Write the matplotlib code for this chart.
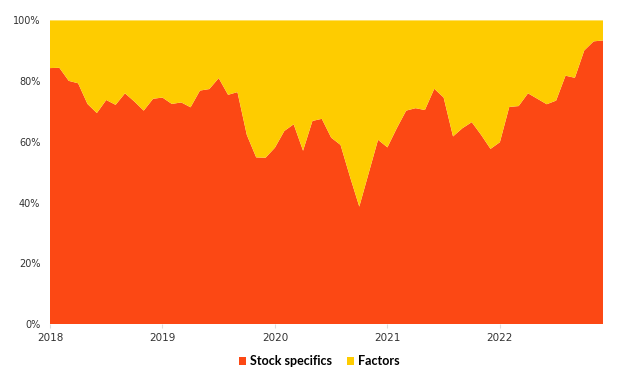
import matplotlib.pyplot as plt
import numpy as np

# monthly share of active risk, Jan 2018 - Dec 2022 (%)
stock_specifics = [
    84.3, 84.4, 80.1, 79.3, 72.5, 69.5, 73.8, 72.2, 76.0, 73.3, 70.3, 74.2,
    74.6, 72.5, 73.0, 71.4, 76.9, 77.4, 81.0, 75.5, 76.4, 62.3, 54.9, 54.8,
    58.1, 63.6, 65.8, 57.1, 66.9, 67.6, 61.4, 59.0, 48.6, 38.7, 49.7, 60.7,
    58.2, 64.5, 70.3, 71.1, 70.5, 77.5, 74.6, 61.8, 64.5, 66.5, 62.3, 57.7,
    59.9, 71.5, 71.8, 76.0, 74.2, 72.4, 73.6, 81.8, 81.1, 90.1, 93.1, 93.4,
]
factors = [100 - v for v in stock_specifics]
years = [2018, 2019, 2020, 2021, 2022]

x = 2018 + np.arange(len(stock_specifics)) / 12

fig = plt.figure(figsize=(6.21, 3.85), dpi=100)
ax = fig.add_axes([0.0805, 0.158, 0.8905, 0.789])

ax.stackplot(x, stock_specifics, factors,
             colors=['#fc4814', '#fecc00'],
             labels=['Stock specifics', 'Factors'], linewidth=0)

ax.set_xlim(x[0], x[-1])
ax.set_ylim(0, 100)
ax.set_yticks(range(0, 101, 20))
ax.set_yticklabels([f'{v}%' for v in range(0, 101, 20)])
ax.set_xticks(years)
ax.set_xticklabels([str(y) for y in years])

for s in ax.spines.values():
    s.set_visible(False)
ax.tick_params(axis='y', length=0, pad=7, labelsize=7, labelcolor='#333333')
ax.tick_params(axis='x', length=3, color='#dddddd', pad=3, labelsize=7.5,
               labelcolor='#333333')

leg = ax.legend(loc='upper center', bbox_to_anchor=(0.487, -0.065), ncol=2,
                frameon=False, handlelength=0.6, handleheight=0.6,
                handletextpad=0.3, columnspacing=1.2,
                prop={'family': 'Lato', 'weight': 'bold', 'size': 9})

fig.savefig('out.png', dpi=100)
